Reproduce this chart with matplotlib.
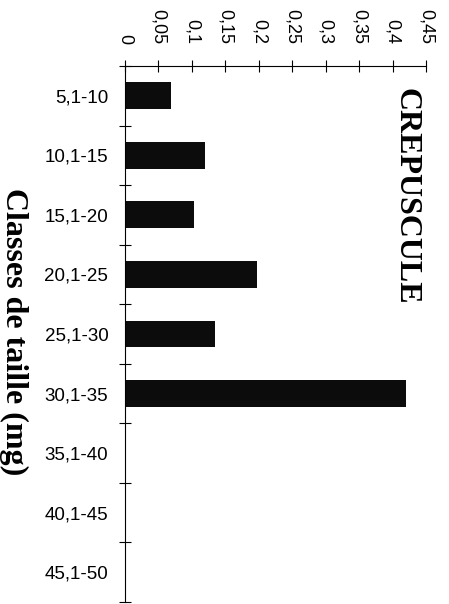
import matplotlib
matplotlib.use("Agg")
import matplotlib.pyplot as plt
import numpy as np

categories = ["5,1-10", "10,1-15", "15,1-20", "20,1-25", "25,1-30",
              "30,1-35", "35,1-40", "40,1-45", "45,1-50"]
values = [0.069, 0.12, 0.103, 0.198, 0.134, 0.42, 0, 0, 0]
value_ticks = [0, 0.05, 0.1, 0.15, 0.2, 0.25, 0.3, 0.35, 0.4, 0.45]
value_tick_labels = ["0", "0,05", "0,1", "0,15", "0,2", "0,25", "0,3", "0,35", "0,4", "0,45"]

W, H = 449, 604
fig = plt.figure(figsize=(W / 100, H / 100), dpi=100)
ax = fig.add_axes([125 / W, 1 - 602 / H, (426 - 125) / W, (602 - 66) / H])

pos = np.arange(len(categories))
ax.barh(pos, values, height=0.45, color="#0c0c0c", edgecolor="none", linewidth=0)

ax.set_xlim(0, 0.45)
ax.set_ylim(len(categories) - 0.5, -0.5)

ax.xaxis.tick_top()
ax.set_xticks(value_ticks)
ax.set_xticklabels(value_tick_labels, rotation=-90, fontsize=13,
                   family="Liberation Sans")
ax.tick_params(axis="x", direction="inout", length=8, width=0.8, pad=12)

# category ticks sit on the band boundaries, labels in the band centres
ax.set_yticks(np.arange(len(categories) + 1) - 0.5)
ax.set_yticklabels([])
ax.set_yticks(pos, minor=True)
ax.set_yticklabels(categories, minor=True, fontsize=13.5, family="Liberation Sans")
ax.tick_params(axis="y", which="major", direction="inout", length=8, width=0.8)
ax.tick_params(axis="y", which="minor", length=0, pad=12)

for side in ("right", "bottom"):
    ax.spines[side].set_visible(False)
for side in ("left", "top"):
    ax.spines[side].set_linewidth(0.8)

fig.text(406 / W, 1 - 196 / H, "CREPUSCULE", rotation=-90, ha="center", va="center",
         fontsize=23, fontweight="bold", family="Liberation Serif")
fig.text(14 / W, 1 - 332 / H, "Classes de taille (mg)", rotation=-90, ha="center",
         va="center", fontsize=23, fontweight="bold", family="Liberation Serif")

fig.savefig("out.png", dpi=100)
